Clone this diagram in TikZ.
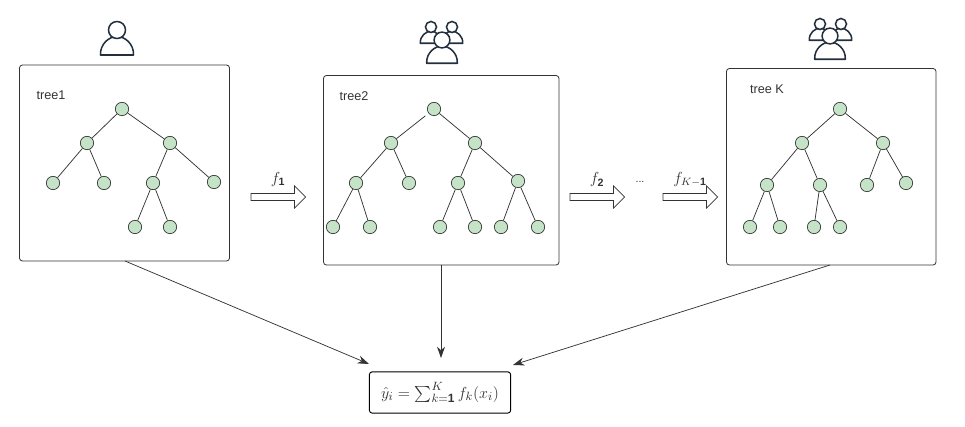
\documentclass[tikz,border=0pt]{standalone}
\usepackage{amsmath}
\usepackage{fontspec}
\setmainfont{Liberation Sans}
\usepackage{tikz}
\usetikzlibrary{arrows.meta}
\usetikzlibrary{shapes.arrows}

\definecolor{inkdark}{HTML}{333333}
\definecolor{iconblue}{HTML}{232F3E}
\definecolor{leafgreen}{HTML}{C5E3C6}

\tikzset{
  treebox/.style={draw=inkdark,rounded corners=2.2pt,line width=.6pt},
  treelabel/.style={text=inkdark,font=\fontsize{9.5pt}{11pt}\selectfont,inner sep=0pt},
  leaf/.style={circle,draw=inkdark,fill=leafgreen,line width=.5pt,minimum size=10pt,inner sep=0pt},
  branch/.style={draw=inkdark,line width=.55pt},
  stepbar/.style={single arrow,draw=inkdark,fill=white,line width=.55pt,inner sep=2.4pt,
    minimum height=41pt,minimum width=16pt,single arrow head extend=5.6pt},
  steplabel/.style={inner sep=0pt,font=\large,text=inkdark},
  vote/.style={draw=inkdark,line width=.55pt,-{Stealth[length=8.5pt,width=6pt]}},
  personicon/.pic={
    \draw[iconblue,line width=1.15pt,fill=white,line join=round]
      (-16.5,25) -- (16.5,25) .. controls (17,14) and (8,6.5) .. (0,6.5)
      .. controls (-8,6.5) and (-17,14) .. (-16.5,25) -- cycle;
    \draw[iconblue,line width=1.15pt,fill=white] (0,0) circle[radius=8.5];
  }
}

\begin{document}
\begin{tikzpicture}[x=.75pt,y=-.75pt]
\useasboundingbox (0,0) rectangle (965,427);

% users above the trees
\pic at (117,30) {personicon};
\pic[scale=.65] at (431,27) {personicon};
\pic[scale=.65] at (452,27) {personicon};
\pic[scale=.93] at (442,40) {personicon};
\pic[scale=.65] at (820,24) {personicon};
\pic[scale=.65] at (841,24) {personicon};
\pic[scale=.93] at (830,36) {personicon};

% frames
\draw[treebox] (19.5,65) rectangle (229.5,261);
\draw[treebox] (323.5,75.5) rectangle (559,265);
\draw[treebox] (726.5,68.5) rectangle (936,265);
\coordinate (frameA) at (125,261);
\coordinate (frameB) at (441,265);
\coordinate (frameC) at (830,265);

\node[treelabel] (labelA) at (51,95) {tree1};
\node[treelabel] (labelB) at (354,96) {tree2};
\node[treelabel] (labelC) at (767,89.5) {tree K};

% tree 1
\foreach \name/\x/\y in {a/122/109,al/87/143,ar/170/143,all/53/183,alr/104/183,arl/153/183,
  arr/214/182,arll/135/227,arlr/170/227}
  \node[leaf] (\name) at (\x,\y) {};
\foreach \from/\to in {a/al,a/ar,al/all,al/alr,ar/arl,ar/arr,arl/arll,arl/arlr}
  \draw[branch] (\from) -- (\to);

% tree 2
\foreach \name/\x/\y in {b/434/109,bl/391/143,br/475/143,bll/356/183,blr/409/183,brl/458/183,
  brr/518/181,blll/333/227,bllr/370/227,brll/440/227,brlr/475/227,brrl/501/227,brrr/538/227}
  \node[leaf] (\name) at (\x,\y) {};
\foreach \from/\to in {b/br,bl/bll,bl/blr,br/brl,br/brr,bll/blll,bll/bllr,brl/brll,brl/brlr,
  brr/brrl,brr/brrr}
  \draw[branch] (\from) -- (\to);
\draw[branch,shorten <=3pt] (b) -- (bl);

% tree K
\foreach \name/\x/\y in {c/840/109,cl/802/143,cr/883/143,cll/767/185,clr/820/185,crl/867/185,
  crr/906/183,clll/750/227,cllr/780/227,clrl/814/227,clrr/840/227}
  \node[leaf] (\name) at (\x,\y) {};
\foreach \from/\to in {c/cl,c/cr,cl/cll,cl/clr,cr/crl,cr/crr,cll/clll,cll/cllr,clr/clrl,clr/clrr}
  \draw[branch] (\from) -- (\to);

% boosting steps
\node[stepbar] (stepA) at (276.5,197) {};
\node[stepbar] (stepB) at (595.5,197) {};
\node[stepbar] (stepC) at (688.5,197) {};
\node[steplabel] (fA) at (278,179.5) {$f_{\mathbf{1}}$};
\node[steplabel] (fB) at (597,180) {$f_{\mathbf{2}}$};
\node[steplabel] (fC) at (690,179.5) {$f_{K-\mathbf{1}}$};
\node[inner sep=0pt,font=\footnotesize,text=inkdark] (dots) at (640,182) {...};

% result
\node[draw=black,rounded corners=2.2pt,line width=.7pt,minimum width=106pt,minimum height=31pt,
  inner sep=0pt,font=\fontsize{12.8pt}{15pt}\selectfont,text=inkdark] (result) at (440,392.5)
  {$\hat{y}_i=\sum_{k=\mathbf{1}}^{K} f_k(x_i)$};
\coordinate (inA) at (369,364);
\coordinate (inB) at (441,358);
\coordinate (inC) at (513,365);
\draw[vote] (frameA) -- (inA);
\draw[vote] (frameB) -- (inB);
\draw[vote] (frameC) -- (inC);
\end{tikzpicture}
\end{document}
